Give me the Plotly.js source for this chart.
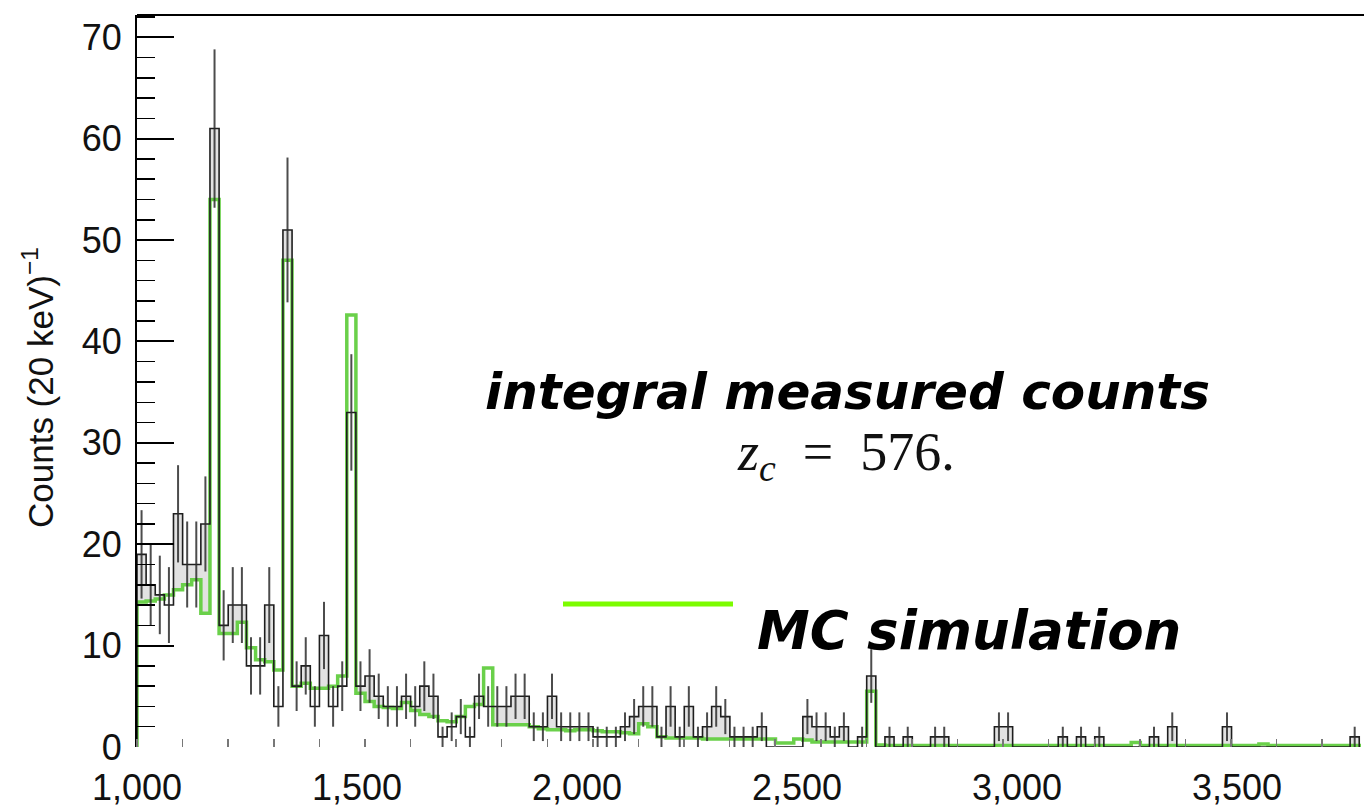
<!DOCTYPE html>
<html>
<head>
<meta charset="utf-8">
<script src="https://cdn.plot.ly/plotly-3.0.1.min.js"></script>
<style>html,body{margin:0;padding:0;background:#fff;}#chart{width:1364px;height:811px;}</style>
</head>
<body>
<div id="chart"></div>
<script>
// ---- data ----
const binStart = 1000;
const binWidth = 20.73;
const dataCounts = [
  19,16,15,14,23,18,18,22,61,
  12,14,14,8,8,14,4,51,
  6,8,4,11,4,6,33,
  6,7,5,4,4,5,4,6,5,1,2,3,1,5,4,4,4,5,5,2,2,5,2,2,
  2,2,1,1,1,2,3,4,4,1,4,1,4,1,2,4,3,1,1,1,2,0,0,0,
  0,3,2,2,1,2,0,1,7,0,1,0,1,0,0,1,1,0,0,0,0,0,2,2,
  0,0,0,0,0,1,0,1,0,1,0,0,0,0,0,1,0,2,0,0,0,0,0,2,
  0,0,0,0,0,0,0,0,0,0,0,0,0,1
];
const mcCounts = [
  14.3,14.4,14.6,15.0,15.5,16.0,16.5,13.2,54.0,
  11.2,11.2,12.3,9.8,8.6,8.4,7.6,48.0,
  6.0,6.3,5.8,5.8,6.0,7.0,42.6,
  5.3,4.5,4.0,3.9,3.8,4.4,3.6,3.2,3.0,2.6,2.5,3.0,4.0,4.2,7.8,2.2,2.2,2.2,2.2,2.0,1.8,1.7,1.7,1.6,
  1.7,1.7,1.6,1.5,1.5,1.4,1.3,2.3,2.0,1.0,0.9,0.9,0.9,0.9,0.8,0.8,0.8,0.8,0.8,0.8,0.8,0.8,0.4,0.4,
  0.8,0.7,0.5,0.5,0.5,0.5,0.5,0.5,5.5,0.2,0.15,0.15,0.15,0.15,0.15,0.15,0.15,0.15,0.15,0.15,0.15,0.15,0.15,0.15,
  0.15,0.15,0.15,0.15,0.15,0.15,0.15,0.15,0.15,0.15,0.15,0.15,0.15,0.45,0.15,0.15,0.15,0.15,0.15,0.15,0.15,0.15,0.15,0.15,
  0.15,0.15,0.15,0.3,0.15,0.15,0.15,0.15,0.15,0.15,0.15,0.15,0.15,0.15
];
const xTickVals = [1000,1500,2000,2500,3000,3500];
const xTickText = ["1,000","1,500","2,000","2,500","3,000","3,500"];
const yTitle = "Counts (20 keV)<sup>−1</sup>";
const noteText = "integral measured counts";
const zcText = "<i>z</i><sub><i>c</i></sub>\u2002=\u2002576.";
const legendText = "MC simulation";

// ---- build step outlines ----
function stepXY(vals){
  const xs=[binStart], ys=[0];
  for(let k=0;k<vals.length;k++){ xs.push(binStart+k*binWidth); ys.push(vals[k]); }
  xs.push(binStart+vals.length*binWidth); ys.push(0);
  return {x:xs,y:ys};
}
const dStep = stepXY(dataCounts);
const mStep = stepXY(mcCounts);
const ebX=[], ebY=[], ebE=[];
dataCounts.forEach((v,k)=>{ if(v>0){ ebX.push(binStart+(k+0.5)*binWidth); ebY.push(v); ebE.push(Math.sqrt(v)); }});

const traces = [
  {x:dStep.x,y:dStep.y,mode:'lines',line:{shape:'hv',width:0,color:'rgba(0,0,0,0)'},fill:'tozeroy',fillcolor:'rgba(190,190,190,0.45)',hoverinfo:'skip'},
  {x:mStep.x,y:mStep.y,mode:'lines',line:{shape:'hv',width:0,color:'rgba(0,0,0,0)'},fill:'tozeroy',fillcolor:'#ffffff',hoverinfo:'skip'},
  {x:mStep.x,y:mStep.y,mode:'lines',line:{shape:'hv',width:3.5,color:'#6ad04a'},name:'MC simulation'},
  {x:dStep.x,y:dStep.y,mode:'lines',line:{shape:'hv',width:1.6,color:'#1e1e1e'},name:'data'},
  {x:ebX,y:ebY,mode:'markers',marker:{size:2,color:'rgba(0,0,0,0)'},
   error_y:{type:'data',array:ebE,visible:true,width:0,thickness:2,color:'rgba(45,45,45,0.85)'},hoverinfo:'skip'}
];

const L=137, T=15, W=1227, H=732;
const ax = px => (px-L)/W;
const ay = py => (T+H-py)/H;

const layout = {
  width:1364, height:811,
  margin:{l:L, r:0, t:T, b:811-T-H, pad:0},
  paper_bgcolor:'#ffffff', plot_bgcolor:'#ffffff',
  showlegend:false,
  xaxis:{range:[1000, 1000+W/0.44], showgrid:false, zeroline:false, showline:false,
    tickmode:'array', tickvals:xTickVals, ticktext:xTickText, ticks:'', ticklabelstandoff:16,
    tickfont:{family:'Liberation Sans, Arial, sans-serif', size:36, color:'#111'},
    minor:{ticks:'inside', ticklen:8, tickwidth:1.5, tickcolor:'#777', tick0:1000, dtick:103.6},
    automargin:false, fixedrange:true},
  yaxis:{range:[0,72.2], showgrid:false, zeroline:false, showline:true, linecolor:'#000', linewidth:2,
    ticks:'inside', ticklen:37, tickwidth:2, tickcolor:'#000', tick0:0, dtick:10, ticklabelstandoff:6,
    tickfont:{family:'Liberation Sans, Arial, sans-serif', size:36, color:'#111'},
    minor:{ticks:'inside', ticklen:18, tickwidth:1.5, tickcolor:'#000', dtick:2},
    automargin:false, fixedrange:true},
  shapes:[
    {type:'line', xref:'paper', yref:'paper', x0:0, x1:1, y0:1, y1:1, line:{color:'#000', width:2}},
    {type:'line', xref:'paper', yref:'paper', x0:ax(563), x1:ax(733), y0:ay(604), y1:ay(604), line:{color:'#7cfc00', width:5}}
  ],
  annotations:[
    {text:yTitle, xref:'paper', yref:'paper', x:ax(38), y:ay(388), textangle:-90, showarrow:false,
     xanchor:'center', yanchor:'middle', font:{family:'Liberation Sans, Arial, sans-serif', size:35, color:'#111'}},
    {text:noteText, xref:'paper', yref:'paper', x:ax(848), y:ay(392), showarrow:false, xanchor:'center', yanchor:'middle',
     font:{family:'DejaVu Sans', size:50, color:'#000', weight:'bold', style:'italic'}},
    {text:zcText, xref:'paper', yref:'paper', x:ax(846), y:ay(455), showarrow:false, xanchor:'center', yanchor:'middle',
     font:{family:'Liberation Serif, DejaVu Serif, serif', size:54, color:'#111'}},
    {text:legendText, xref:'paper', yref:'paper', x:ax(969), y:ay(630), showarrow:false, xanchor:'center', yanchor:'middle',
     font:{family:'DejaVu Sans', size:53, color:'#000', weight:'bold', style:'italic'}}
  ]
};

Plotly.newPlot('chart', traces, layout, {staticPlot:true, displayModeBar:false});
</script>
</body>
</html>
